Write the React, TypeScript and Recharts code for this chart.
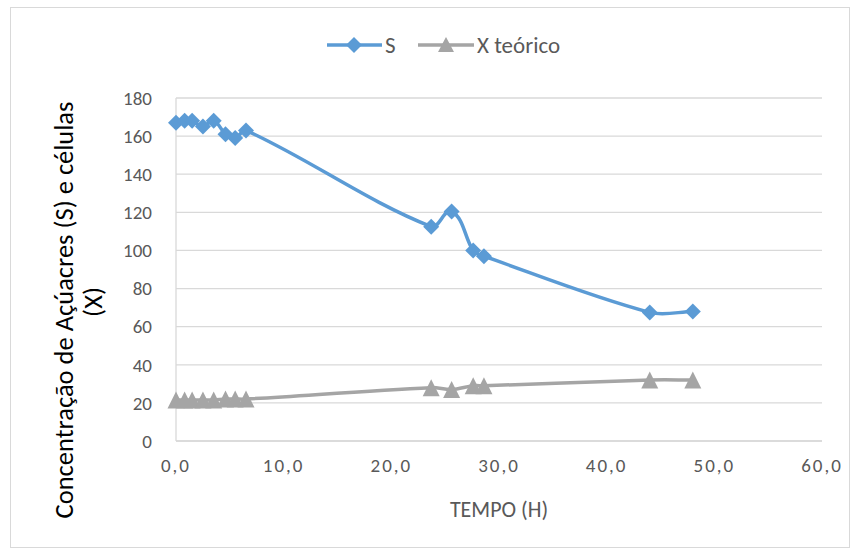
import React from "react";
import { LineChart, Line, XAxis, YAxis, CartesianGrid } from "recharts";

const times = [0, 0.8, 1.5, 2.5, 3.5, 4.6, 5.5, 6.5, 23.7, 25.6, 27.6, 28.6, 44, 48];
const sValues = [167, 168, 168, 165, 168, 161, 159, 163, 112.5, 120.5, 100, 97, 67.5, 68];
const xValues = [21.5, 21.5, 21.5, 21.5, 21.5, 22, 22, 22, 28, 27, 29, 29, 32, 32];
const seriesNames = ["S", "X teórico"];
const xTicks = [0, 10, 20, 30, 40, 50, 60];
const yTicks = [0, 20, 40, 60, 80, 100, 120, 140, 160, 180];

const data = times.map((t, i) => ({ t, s: sValues[i], x: xValues[i] }));

const BLUE = "#5B9BD5";
const GRAY = "#A5A5A5";
const TEXT = "#595959";
const FONT = "Carlito, Calibri, Lato, sans-serif";

// Smoothed curve: tangent direction from neighbours, length from segment
const smoothCurve: any = (context: any) => {
  let pts: number[][] = [];
  return {
    areaStart() {},
    areaEnd() {},
    lineStart() {
      pts = [];
    },
    point(x: number, y: number) {
      pts.push([+x, +y]);
    },
    lineEnd() {
      const n = pts.length;
      if (!n) return;
      const tang = pts.map((p, i) => {
        const a = pts[Math.max(0, i - 1)];
        const b = pts[Math.min(n - 1, i + 1)];
        const dx = b[0] - a[0];
        const dy = b[1] - a[1];
        const l = Math.hypot(dx, dy) || 1;
        return [dx / l, dy / l];
      });
      context.moveTo(pts[0][0], pts[0][1]);
      for (let i = 0; i < n - 1; i++) {
        const p1 = pts[i];
        const p2 = pts[i + 1];
        const L = Math.hypot(p2[0] - p1[0], p2[1] - p1[1]) / 3;
        context.bezierCurveTo(
          p1[0] + tang[i][0] * L,
          p1[1] + tang[i][1] * L,
          p2[0] - tang[i + 1][0] * L,
          p2[1] - tang[i + 1][1] * L,
          p2[0],
          p2[1]
        );
      }
    },
  };
};

const Diamond = (props: any) => {
  const { cx, cy } = props;
  if (cx == null || cy == null) return null;
  const r = 8;
  return (
    <polygon
      points={`${cx},${cy - r} ${cx + r},${cy} ${cx},${cy + r} ${cx - r},${cy}`}
      fill={BLUE}
    />
  );
};

const Triangle = (props: any) => {
  const { cx, cy } = props;
  if (cx == null || cy == null) return null;
  const h = 8.5;
  return (
    <polygon
      points={`${cx},${cy - h} ${cx + h},${cy + h} ${cx - h},${cy + h}`}
      fill={GRAY}
    />
  );
};

const YTitle = () => (
  <svg
    width={120}
    height={554}
    style={{ position: "absolute", left: 0, top: 0, pointerEvents: "none" }}
  >
    <text
      transform="translate(73, 310) rotate(-90)"
      textAnchor="middle"
      fontFamily={FONT}
      fontSize={26.5}
      fill="#000"
    >
      Concentração de Açúacres (S) e células
    </text>
    <text
      transform="translate(102, 302) rotate(-90)"
      textAnchor="middle"
      fontFamily={FONT}
      fontSize={26.5}
      fill="#000"
    >
      (X)
    </text>
  </svg>
);

const LegendBox = () => (
  <svg
    width={859}
    height={80}
    style={{ position: "absolute", left: 0, top: 0, pointerEvents: "none" }}
  >
    <line x1={327} y1={45} x2={382} y2={45} stroke={BLUE} strokeWidth={3.5} />
    <polygon points={`354,37 362,45 354,53 346,45`} fill={BLUE} />
    <text x={385} y={53} fontFamily={FONT} fontSize={23} fill={TEXT}>
      {seriesNames[0]}
    </text>
    <line x1={418} y1={45} x2={474} y2={45} stroke={GRAY} strokeWidth={3.5} />
    <polygon points={`446,37 454,52 438,52`} fill={GRAY} />
    <text x={477} y={53} fontFamily={FONT} fontSize={23} fill={TEXT}>
      {seriesNames[1]}
    </text>
  </svg>
);

export default function App() {
  return (
    <div
      style={{
        position: "absolute",
        left: 0,
        top: 0,
        width: 859,
        height: 554,
        background: "#fff",
      }}
    >
      <div
        style={{
          position: "absolute",
          left: 10,
          top: 7,
          width: 838,
          height: 539,
          border: "1px solid #D9D9D9",
        }}
      />
      <div style={{ position: "absolute", left: 0, top: 0 }}>
        <LineChart
          width={859}
          height={554}
          data={data}
          margin={{ top: 98, right: 37, bottom: 43, left: 116 }}
        >
          <CartesianGrid vertical={false} stroke="#D9D9D9" strokeWidth={1.3} />
          <XAxis
            dataKey="t"
            type="number"
            domain={[0, 60]}
            ticks={xTicks}
            tickFormatter={(v: number) => v.toFixed(1).replace(".", ",")}
            axisLine={{ stroke: "#D9D9D9", strokeWidth: 1.3 }}
            tickLine={false}
            tickSize={0}
            tickMargin={18}
            height={70}
            tick={{ fill: TEXT, fontSize: 19, fontFamily: FONT, letterSpacing: 2 }}
            label={{
              value: "TEMPO (H)",
              position: "insideBottom",
              offset: -6,
              fill: TEXT,
              fontSize: 22,
              fontFamily: FONT,
            }}
          />
          <YAxis
            type="number"
            domain={[0, 180]}
            ticks={yTicks}
            width={60}
            axisLine={{ stroke: "#D9D9D9", strokeWidth: 1.3 }}
            tickLine={false}
            tickSize={0}
            tickMargin={24}
            tick={{ fill: TEXT, fontSize: 19, fontFamily: FONT }}
          />
          <Line
            type={smoothCurve}
            dataKey="s"
            stroke={BLUE}
            strokeWidth={3.5}
            dot={<Diamond />}
            activeDot={false}
            isAnimationActive={false}
          />
          <Line
            type={smoothCurve}
            dataKey="x"
            stroke={GRAY}
            strokeWidth={3.5}
            dot={<Triangle />}
            activeDot={false}
            isAnimationActive={false}
          />
        </LineChart>
      </div>
      <YTitle />
      <LegendBox />
    </div>
  );
}
